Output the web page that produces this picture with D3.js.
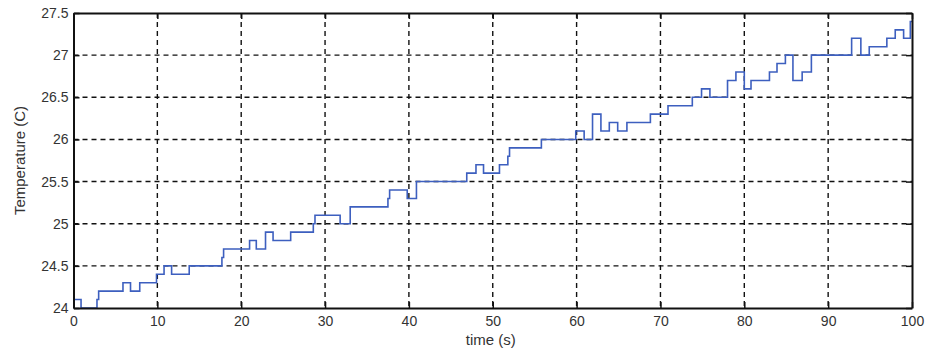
<!DOCTYPE html>
<html>
<head>
<meta charset="utf-8">
<script src="https://cdn.jsdelivr.net/npm/d3@7"></script>
<style>
  html, body { margin: 0; padding: 0; background: #fff; }
  svg { display: block; }
  text { font-family: "Liberation Sans", Arial, sans-serif; fill: #333; }
</style>
</head>
<body>
<svg id="chart" width="931" height="351"></svg>
<script>
// Step changes: time (s) at which the reading changes, and the new reading (°C)
const times = [0, 0.9, 2.8, 3.0, 5.9, 6.8, 7.9, 9.9, 10.8, 11.7, 13.8, 17.7, 17.9, 21.0, 21.8, 22.9, 23.8, 25.9,
  28.6, 28.8, 31.8, 33.0, 37.5, 37.7, 39.8, 40.9, 46.9, 48.0, 48.9, 50.8, 51.8, 52.0, 55.8, 59.9, 60.9, 61.9,
  62.9, 63.9, 64.9, 66.0, 68.8, 70.9, 73.8, 74.9, 75.9, 78.0, 79.0, 80.0, 80.8, 83.0, 83.9, 84.9, 85.8, 86.9,
  88.0, 92.8, 93.9, 94.9, 97.0, 98.0, 99.0, 99.8, 100];
const temps = [24.1, 24.0, 24.1, 24.2, 24.3, 24.2, 24.3, 24.4, 24.5, 24.4, 24.5, 24.6, 24.7, 24.8, 24.7, 24.9, 24.8, 24.9,
  25.0, 25.1, 25.0, 25.2, 25.3, 25.4, 25.3, 25.5, 25.6, 25.7, 25.6, 25.7, 25.8, 25.9, 26.0, 26.1, 26.0, 26.3,
  26.1, 26.2, 26.1, 26.2, 26.3, 26.4, 26.5, 26.6, 26.5, 26.7, 26.8, 26.6, 26.7, 26.8, 26.9, 27.0, 26.7, 26.8,
  27.0, 27.2, 27.0, 27.1, 27.2, 27.3, 27.2, 27.4, 27.4];
const xTicks = [0, 10, 20, 30, 40, 50, 60, 70, 80, 90, 100];
const yTicks = [24, 24.5, 25, 25.5, 26, 26.5, 27, 27.5];
const xLabel = "time (s)";
const yLabel = "Temperature (C)";

const svg = d3.select("#chart");
const L = 73.5, R = 912, T = 13, B = 308;
const x = d3.scaleLinear().domain([0, 100]).range([L, R]);
const y = d3.scaleLinear().domain([24, 27.5]).range([B, T]);

// grid
const grid = svg.append("g").attr("stroke", "#111").attr("stroke-width", 1.4).attr("stroke-dasharray", "5,4");
grid.selectAll("line.v").data(xTicks.slice(1, -1)).join("line")
  .attr("x1", d => x(d)).attr("x2", d => x(d)).attr("y1", T).attr("y2", B);
grid.selectAll("line.h").data(yTicks.slice(1, -1)).join("line")
  .attr("x1", L).attr("x2", R).attr("y1", d => y(d)).attr("y2", d => y(d));

// data line
const data = times.map((t, i) => [t, temps[i]]);
const line = d3.line().x(d => x(d[0])).y(d => y(d[1])).curve(d3.curveStepAfter);
svg.append("path").datum(data).attr("d", line)
  .attr("fill", "none").attr("stroke", "#3d5fbf").attr("stroke-width", 1.6);

// axes (MATLAB style: inward ticks, box)
const tickLen = 6;
const axB = svg.append("g").attr("transform", `translate(0,${B})`)
  .call(d3.axisBottom(x).tickValues(xTicks).tickSizeInner(-tickLen).tickSizeOuter(0).tickPadding(8).tickFormat(d3.format("d")));
const axT = svg.append("g").attr("transform", `translate(0,${T})`)
  .call(d3.axisTop(x).tickValues(xTicks).tickSizeInner(-tickLen).tickSizeOuter(0).tickFormat(""));
const axL = svg.append("g").attr("transform", `translate(${L},0)`)
  .call(d3.axisLeft(y).tickValues(yTicks).tickSizeInner(-tickLen).tickSizeOuter(0).tickPadding(7).tickFormat(d => String(d)));
const axR = svg.append("g").attr("transform", `translate(${R},0)`)
  .call(d3.axisRight(y).tickValues(yTicks).tickSizeInner(-tickLen).tickSizeOuter(0).tickFormat(""));
[axB, axT, axL, axR].forEach(a => {
  a.select(".domain").attr("stroke", "#111").attr("stroke-width", 2);
  a.selectAll(".tick line").attr("stroke", "#111").attr("stroke-width", 1.5);
  a.selectAll("text").attr("font-size", 14).attr("fill", "#333").attr("font-family", "Liberation Sans, Arial, sans-serif");
});
axL.selectAll(".tick text").attr("dx", 2);

// axis labels
svg.append("text").attr("x", (L + R) / 2 - 2).attr("y", 345).attr("text-anchor", "middle")
  .attr("font-size", 15).text(xLabel);
svg.append("text").attr("transform", `translate(25,${(T + B) / 2}) rotate(-90)`).attr("text-anchor", "middle")
  .attr("font-size", 15).text(yLabel);
</script>
</body>
</html>
